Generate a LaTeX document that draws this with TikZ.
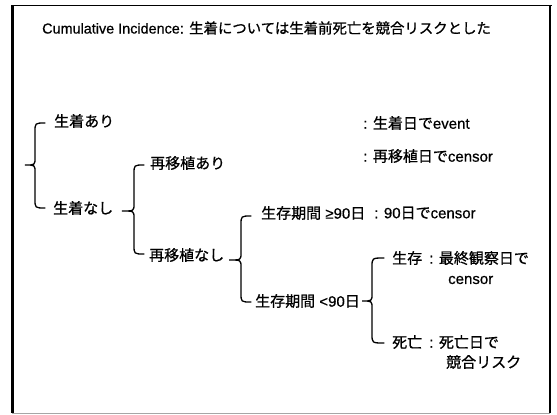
\documentclass[tikz,border=0pt]{standalone}
\usepackage{fontspec}
\setmainfont{Liberation Sans}[FakeBold=0.6]
\newfontfamily\jp{Noto Sans CJK JP}[FakeBold=0.8]
\tikzset{
  lbl/.style={anchor=west, inner sep=0pt, font=\fontsize{15}{17}\selectfont},
  brc/.style={line width=1.3pt, line cap=round},
}
\newcommand{\mybrace}[6]{% xv ytop ybot xtip ymid hook
  \draw[brc] (#6,#2) .. controls (#1,#2) .. (#1,#2+9) -- (#1,#5-7)
    .. controls (#1,#5) .. (#4,#5) .. controls (#1,#5) .. (#1,#5+7)
    -- (#1,#3-9) .. controls (#1,#3) .. (#6,#3);}
\begin{document}
\begin{tikzpicture}[x=1pt,y=-1pt]
\useasboundingbox (0,0) rectangle (557,415);
\fill[white] (0,0) rectangle (557,415);
% frame
\draw[line width=1pt] (11,5) -- (552,5);
\draw[line width=3pt] (12,5) -- (12,413);
\draw[line width=2.5pt] (550,5) -- (550,413);
\draw[line width=1pt, black!35] (12,413) -- (550,413);
% title
\node[lbl, font=\fontsize{14.4}{16}\selectfont] (title) at (42,28) {Cumulative Incidence: {\jp 生着については生着前死亡を競合リスクとした}};
% tree labels
\node[lbl] (a1) at (54,121) {\jp 生着あり};
\node[lbl] (a2) at (53,208) {\jp 生着なし};
\node[lbl] (b1) at (150,163) {\jp 再移植あり};
\node[lbl] (b2) at (149,255) {\jp 再移植なし};
\node[lbl] (c1) at (261,213) {{\jp 生存期間} ≥90{\jp 日}};
\node[lbl] (c2) at (255,301) {{\jp 生存期間} <90{\jp 日}};
\node[lbl] (d1) at (392,258) {\jp 生存};
\node[lbl] (d2) at (392,342) {\jp 死亡};
% results
\node[lbl] (r1) at (363,123) {: {\jp 生着日で}event};
\node[lbl] (r2) at (363,156) {: {\jp 再移植日で}censor};
\node[lbl] (r3) at (374,213) {: 90{\jp 日で}censor};
\node[lbl] (r4) at (429,258) {: {\jp 最終観察日で}};
\node[lbl] (r4b) at (448,280) {censor};
\node[lbl] (r5) at (429,342) {: {\jp 死亡日で}};
\node[lbl] (r5b) at (446,362) {\jp 競合リスク};
% braces
\mybrace{35}{123}{208}{25}{165}{45}
\mybrace{134}{165}{254}{122}{211}{144}
\mybrace{241}{216}{302}{229}{260}{251}
\mybrace{372}{258}{343}{362}{301}{384}
\end{tikzpicture}
\end{document}
